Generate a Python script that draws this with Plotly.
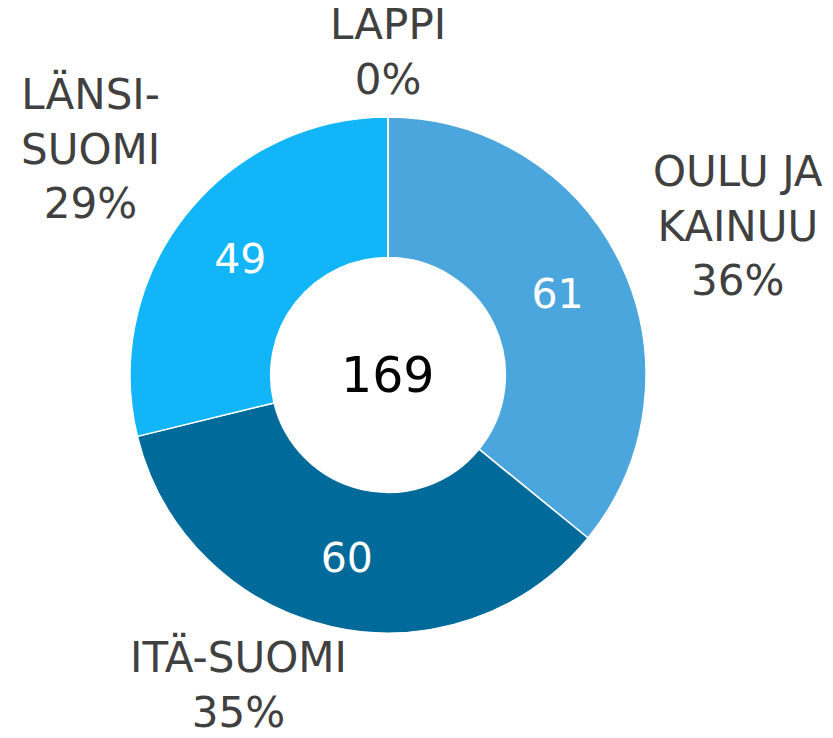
import plotly.graph_objects as go

# Regional breakdown (clockwise from 12 o'clock)
regions = ["OULU JA KAINUU", "ITÄ-SUOMI", "LÄNSI-SUOMI", "LAPPI"]
counts = [61, 60, 49, 0]
slice_colors = ["#4BA6DD", "#006A9A", "#12B5F7", "#7FC6EA"]
center_total = 169

# Outside label text: region name (wrapped) and share of total
label_lines = [["OULU JA", "KAINUU"], ["ITÄ-SUOMI"], ["LÄNSI-", "SUOMI"], ["LAPPI"]]
label_pos = [(738, 226), (238, 694), (90, 148), (388, 52)]  # pixel centres of each label block

W, H = 833, 738
total = sum(counts)
shares = [f"{round(100 * c / total)}%" for c in counts]
inside_text = [str(c) if c > 0 else "" for c in counts]

FONT = "DejaVu Sans, Verdana, sans-serif"
LABEL_SIZE = 42

# Pie placement in pixels
cx, cy, r = 388, 375, 258

fig = go.Figure(
    go.Pie(
        labels=regions,
        values=counts,
        text=inside_text,
        textinfo="text",
        textposition="inside",
        insidetextorientation="horizontal",
        textfont=dict(family=FONT, size=41, color="white"),
        hole=0.455,
        sort=False,
        direction="clockwise",
        rotation=0,
        marker=dict(colors=slice_colors, line=dict(color="white", width=1.5)),
        domain=dict(x=[(cx - r) / W, (cx + r) / W],
                    y=[(H - cy - r) / H, (H - cy + r) / H]),
        showlegend=False,
        hoverinfo="label+value+percent",
    )
)

annotations = [
    dict(x=cx / W, y=1 - cy / H, xref="paper", yref="paper",
         text=str(center_total), showarrow=False,
         font=dict(family=FONT, size=49, color="#000000"),
         xanchor="center", yanchor="middle")
]
for lines, share, (px, py) in zip(label_lines, shares, label_pos):
    rows = lines + [share]
    half_block = len(rows) * 1.3 * LABEL_SIZE / 2
    ann = dict(
        x=px / W, xref="paper", yref="paper",
        text="<br>".join(rows), showarrow=False,
        font=dict(family=FONT, size=LABEL_SIZE, color="#404040"),
        xanchor="center", align="center", borderpad=0,
    )
    if py + half_block > H:
        # sit the block on the bottom edge instead of overflowing it
        ann.update(y=0, yanchor="bottom")
    else:
        ann.update(y=1 - py / H, yanchor="middle")
    annotations.append(ann)

fig.update_layout(
    width=W, height=H,
    margin=dict(l=0, r=0, t=0, b=0),
    paper_bgcolor="white", plot_bgcolor="white",
    annotations=annotations,
)

fig.write_html("out.html")
